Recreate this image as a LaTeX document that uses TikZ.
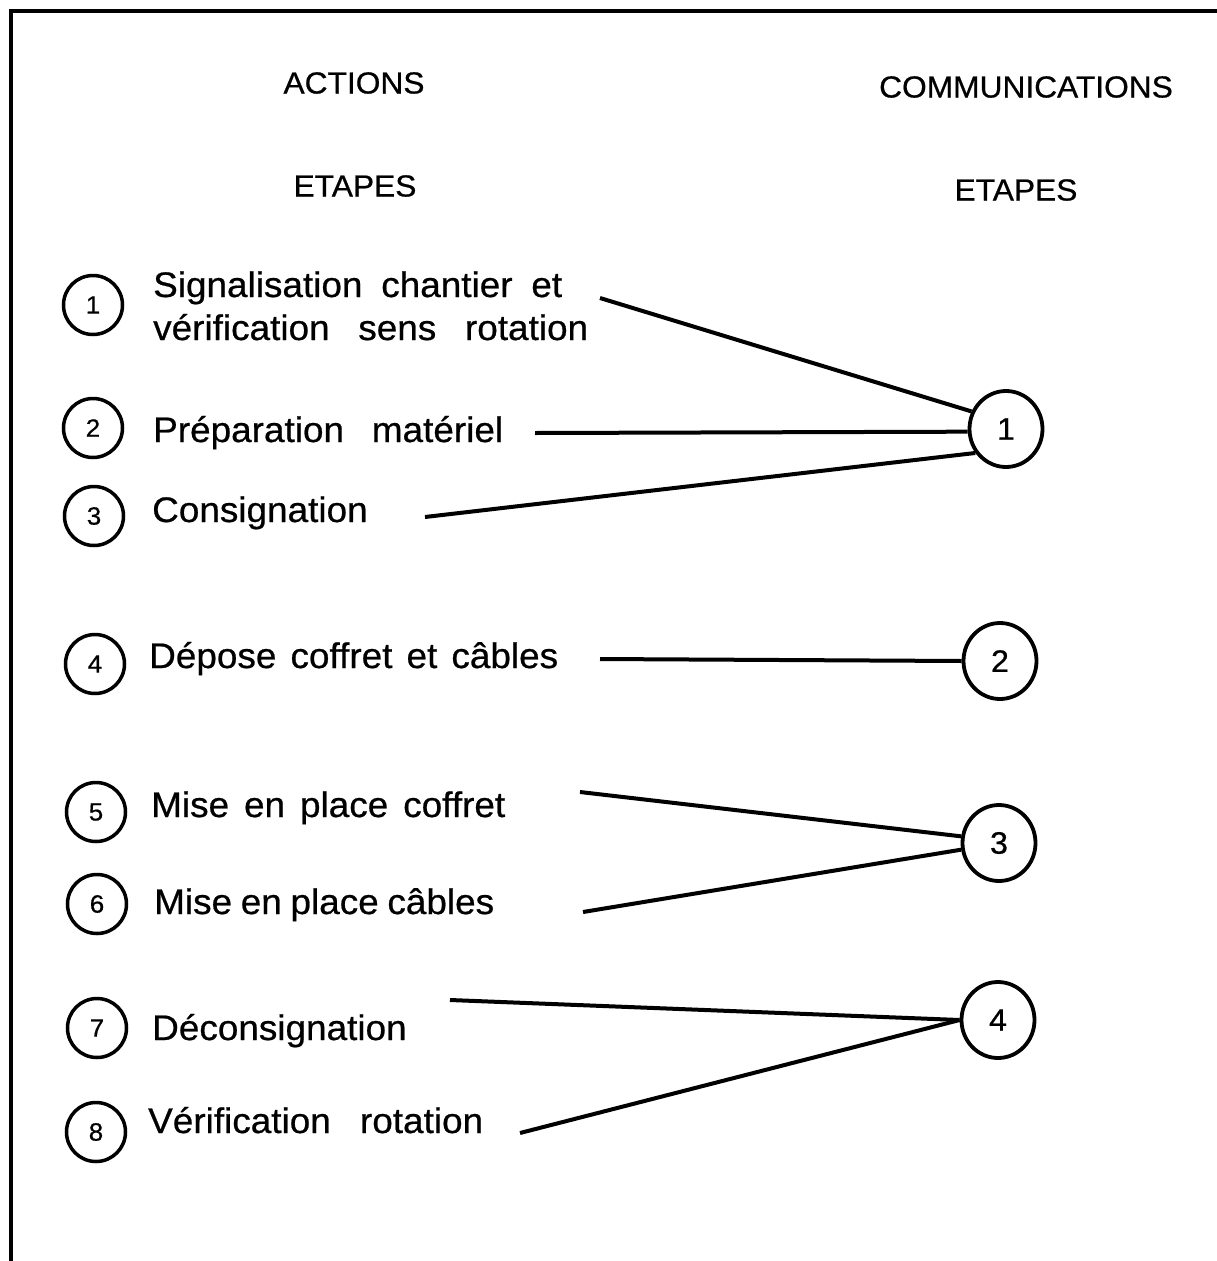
\documentclass[tikz,border=0pt]{standalone}
\usepackage{fontspec}
\setmainfont[FakeBold=0.6,FakeStretch=1.04]{Liberation Sans}
\usetikzlibrary{shapes.geometric}
\newcommand{\wline}[2]{\makebox[#1pt][s]{#2}}
\begin{document}
\begin{tikzpicture}[x=1pt,y=-1pt,
  lnum/.style={ellipse,draw,line width=3.5pt,minimum width=59pt,minimum height=59pt,inner sep=0pt,font=\fontsize{25}{25}\selectfont},
  rnum/.style={ellipse,draw,line width=3.8pt,minimum width=73pt,minimum height=76pt,inner sep=0pt,font=\fontsize{31}{31}\selectfont},
  lab/.style={anchor=base west,inner sep=0pt,font=\fontsize{35.5}{40}\selectfont},
  head/.style={inner sep=0pt,font=\fontsize{30.5}{32}\selectfont},
  link/.style={line width=4pt}]
\useasboundingbox (0,0) rectangle (1217,1261);
\draw[line width=4pt] (11,1261) -- (11,11) -- (1217,11);
\node[head] (hA) at (354,83) {ACTIONS};
\node[head] (hC) at (1026,87) {COMMUNICATIONS};
\node[head] (hE1) at (355,186) {ETAPES};
\node[head] (hE2) at (1016,190) {ETAPES};
% left circles
\node[lnum] (a1) at (93,305) {1};
\node[lnum] (a2) at (93,428) {2};
\node[lnum] (a3) at (94,516) {3};
\node[lnum] (a4) at (95,664) {4};
\node[lnum] (a5) at (96,812) {5};
\node[lnum] (a6) at (97,904) {6};
\node[lnum] (a7) at (97,1028) {7};
\node[lnum] (a8) at (96,1132) {8};
% labels
\node[lab] (t1) at (153,297) {\wline{409}{Signalisation chantier et}};
\node[lab] (t1b) at (153,340) {\wline{435}{vérification sens rotation}};
\node[lab] (t2) at (153,442) {\wline{350}{Préparation matériel}};
\node[lab] (t3) at (152,522) {Consignation};
\node[lab] (t4) at (149,668) {\wline{409}{Dépose coffret et câbles}};
\node[lab] (t5) at (151,817) {\wline{354}{Mise en place coffret}};
\node[lab] (t6) at (154,914) {\wline{340}{Mise en place câbles}};
\node[lab] (t7) at (152,1040) {Déconsignation};
\node[lab] (t8) at (148,1133) {\wline{335}{Vérification rotation}};
% right circles
\node[rnum] (c1) at (1006,429) {1};
\node[rnum] (c2) at (1000,661) {2};
\node[rnum] (c3) at (999,843) {3};
\node[rnum] (c4) at (998,1020) {4};
% free ends
\coordinate (e1) at (600,298);
\coordinate (e2) at (535,433);
\coordinate (e3) at (425,517);
\coordinate (e4) at (600,659);
\coordinate (e5) at (580,792);
\coordinate (e6) at (583,912);
\coordinate (e7) at (450,1000);
\coordinate (e8) at (520,1133);
\draw[link] (e1) -- (c1.153);
\draw[link] (e2) -- (c1.184);
\draw[link] (e3) -- (c1.218);
\draw[link] (e4) -- (c2.west);
\draw[link] (e5) -- (c3.170);
\draw[link] (e6) -- (c3.190);
\draw[link] (e7) -- (c4.west);
\draw[link] (e8) -- (c4.west);
\end{tikzpicture}
\end{document}
